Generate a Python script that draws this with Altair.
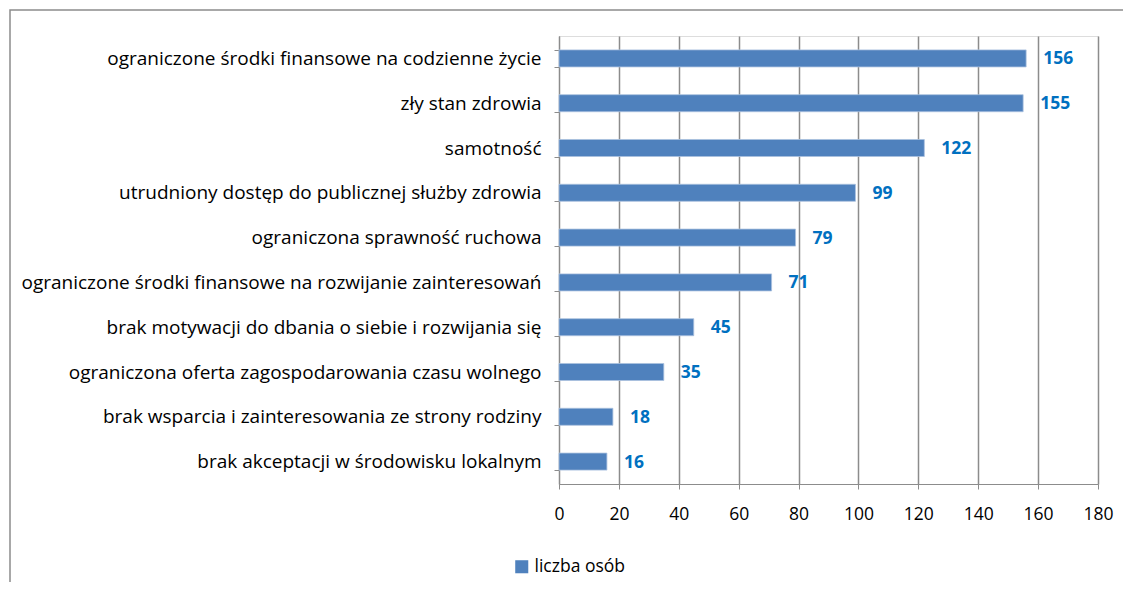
import altair as alt
import pandas as pd

categories = [
    "ograniczone środki finansowe na codzienne życie",
    "zły stan zdrowia",
    "samotność",
    "utrudniony dostęp do publicznej służby zdrowia",
    "ograniczona sprawność ruchowa",
    "ograniczone środki finansowe na rozwijanie zainteresowań",
    "brak motywacji do dbania o siebie i rozwijania się",
    "ograniczona oferta zagospodarowania czasu wolnego",
    "brak wsparcia i zainteresowania ze strony rodziny",
    "brak akceptacji w środowisku lokalnym",
]
values = [156, 155, 122, 99, 79, 71, 45, 35, 18, 16]
series_name = "liczba osób"
x_ticks = [0, 20, 40, 60, 80, 100, 120, 140, 160, 180]

df = pd.DataFrame({"kategoria": categories, "wartosc": values, "seria": series_name})

FONT = "Open Sans"
GRID = "#8c8c8c"

y_enc = alt.Y("kategoria:N", sort=categories, title=None,
              scale=alt.Scale(paddingInner=0.62, paddingOuter=0.31),
              axis=alt.Axis(tickBand="extent", tickSize=5, tickColor=GRID,
                            domainColor=GRID, labelPadding=13, labelFontSize=19,
                            labelColor="#000000", labelFont=FONT, labelLimit=600))
x_enc = alt.X("wartosc:Q", title=None,
              scale=alt.Scale(domain=[0, 180], nice=False),
              axis=alt.Axis(values=x_ticks, grid=True, gridColor=GRID, gridWidth=1.5,
                            domain=True, domainColor=GRID, tickColor=GRID, tickSize=5,
                            labelPadding=16, labelFontSize=17.5, labelColor="#000000",
                            labelFont=FONT, labelFlush=False, labelOverlap=False))

bars = alt.Chart(df).mark_bar(stroke="#a9c0de", strokeWidth=0.8).encode(
    y=y_enc, x=x_enc,
    color=alt.Color("seria:N", scale=alt.Scale(domain=[series_name], range=["#4F81BD"]),
                    legend=alt.Legend(title=None, orient="none", legendX=-46, legendY=522,
                                      symbolType="square", symbolSize=170,
                                      labelFontSize=17.5, labelFont=FONT,
                                      labelColor="#000000", symbolStrokeWidth=0)),
)

labels = alt.Chart(df).mark_text(align="left", baseline="middle", dx=17, dy=1,
                                 fontSize=17.5, fontWeight="bold", font=FONT,
                                 color="#0070C0").encode(
    y=alt.Y("kategoria:N", sort=categories), x="wartosc:Q", text="wartosc:Q")

border = alt.Chart(pd.DataFrame({"a": [0]})).mark_rect(
    fill=None, stroke="#8c8c8c", strokeWidth=1.5).encode(
    x=alt.value(-549), x2=alt.value(700), y=alt.value(-26), y2=alt.value(700))

chart = alt.layer(border, bars, labels).properties(
    width=539, height=448,
    autosize=alt.AutoSizeParams(type="none"),
    padding={"left": 551, "top": 28, "right": 25, "bottom": 98},
).configure_view(stroke=None).configure(font=FONT)

chart.save("out.html", embed_options={"renderer": "svg", "actions": False})
